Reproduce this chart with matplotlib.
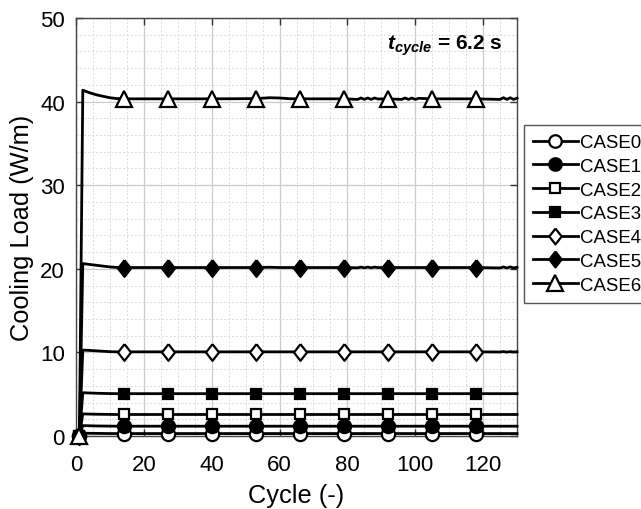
import matplotlib.pyplot as plt
from matplotlib.ticker import MultipleLocator

plt.rcParams['font.family'] = ['Liberation Sans', 'DejaVu Sans']
plt.rcParams['mathtext.fontset'] = 'custom'
plt.rcParams['mathtext.rm'] = 'Liberation Sans'
plt.rcParams['mathtext.bf'] = 'Liberation Sans:bold'
plt.rcParams['mathtext.bfit'] = 'Liberation Sans:bold:italic'

# cycle numbers where the load was sampled
cycles = [1, 2, 4, 6, 8, 10, 12, 14, 20, 27, 34, 40, 46, 53, 57, 60, 63, 66, 72, 79,
          83, 84, 85, 86, 87, 88, 89, 92, 96, 97, 98, 99, 100, 101, 105, 112, 118,
          125, 126, 127, 128, 129, 130]
marker_cycles = [1, 14, 27, 40, 53, 66, 79, 92, 105, 118]

case0 = [0, 0.35, 0.33, 0.32, 0.31, 0.30, 0.30, 0.30, 0.30, 0.30, 0.30, 0.30, 0.30, 0.30,
         0.30, 0.30, 0.30, 0.30, 0.30, 0.30, 0.30, 0.30, 0.30, 0.30, 0.30, 0.30, 0.30,
         0.30, 0.30, 0.30, 0.30, 0.30, 0.30, 0.30, 0.30, 0.30, 0.30, 0.30, 0.30, 0.30,
         0.30, 0.30, 0.30]
case1 = [0, 1.25, 1.23, 1.21, 1.20, 1.19, 1.18, 1.18, 1.18, 1.18, 1.18, 1.18, 1.18, 1.18,
         1.18, 1.18, 1.18, 1.18, 1.18, 1.18, 1.18, 1.18, 1.18, 1.18, 1.18, 1.18, 1.18,
         1.18, 1.18, 1.18, 1.18, 1.18, 1.18, 1.18, 1.18, 1.18, 1.18, 1.18, 1.18, 1.18,
         1.18, 1.18, 1.18]
case2 = [0, 2.65, 2.63, 2.61, 2.60, 2.59, 2.58, 2.58, 2.58, 2.58, 2.58, 2.58, 2.58, 2.58,
         2.58, 2.58, 2.58, 2.58, 2.58, 2.58, 2.58, 2.58, 2.58, 2.58, 2.58, 2.58, 2.58,
         2.58, 2.58, 2.58, 2.58, 2.58, 2.58, 2.58, 2.58, 2.58, 2.58, 2.58, 2.58, 2.58,
         2.58, 2.58, 2.58]
case3 = [0, 5.18, 5.15, 5.12, 5.10, 5.08, 5.07, 5.07, 5.07, 5.07, 5.07, 5.07, 5.07, 5.07,
         5.07, 5.07, 5.07, 5.07, 5.07, 5.07, 5.07, 5.07, 5.07, 5.07, 5.07, 5.07, 5.07,
         5.07, 5.07, 5.07, 5.07, 5.07, 5.07, 5.07, 5.07, 5.07, 5.07, 5.07, 5.07, 5.07,
         5.07, 5.07, 5.07]
case4 = [0, 10.28, 10.24, 10.19, 10.14, 10.09, 10.07, 10.07, 10.07, 10.07, 10.07, 10.07,
         10.07, 10.07, 10.07, 10.07, 10.07, 10.07, 10.07, 10.07, 10.07, 10.07, 10.07, 10.07,
         10.07, 10.07, 10.07, 10.07, 10.07, 10.07, 10.07, 10.07, 10.07, 10.07, 10.07, 10.07,
         10.07, 10.05, 10.10, 10.04, 10.10, 10.05, 10.08]
case5 = [0, 20.62, 20.52, 20.42, 20.32, 20.22, 20.16, 20.15, 20.15, 20.15, 20.15, 20.15,
         20.15, 20.15, 20.18, 20.15, 20.15, 20.15, 20.15, 20.15, 20.12, 20.20, 20.12, 20.20,
         20.12, 20.20, 20.15, 20.15, 20.15, 20.15, 20.15, 20.15, 20.15, 20.15, 20.15, 20.15,
         20.15, 20.10, 20.22, 20.10, 20.22, 20.10, 20.18]
case6 = [0, 41.35, 41.05, 40.80, 40.62, 40.45, 40.35, 40.32, 40.32, 40.32, 40.32, 40.32,
         40.33, 40.35, 40.45, 40.42, 40.33, 40.32, 40.32, 40.32, 40.25, 40.42, 40.25, 40.42,
         40.25, 40.42, 40.30, 40.32, 40.25, 40.42, 40.25, 40.42, 40.25, 40.38, 40.32, 40.32,
         40.32, 40.25, 40.45, 40.25, 40.45, 40.25, 40.40]

series = [case0, case1, case2, case3, case4, case5, case6]
labels = ['CASE0', 'CASE1', 'CASE2', 'CASE3', 'CASE4', 'CASE5', 'CASE6']

diamond = [(0, 1), (0.78, 0), (0, -1), (-0.78, 0), (0, 1)]
styles = [('o', 'white', 9.5), ('o', 'black', 9.5), ('s', 'white', 7.5), ('s', 'black', 7.5),
          (diamond, 'white', 12), (diamond, 'black', 12), ('^', 'white', 12)]

mark_on = [c in marker_cycles for c in cycles]

fig = plt.figure(figsize=(6.41, 5.10), dpi=100)
ax = fig.add_axes([0.1186, 0.143, 0.688, 0.820])

for vals, lab, (mk, fc, ms) in zip(series, labels, styles):
    ax.plot(cycles, vals, color='black', lw=2.0, marker=mk, markersize=ms,
            markerfacecolor=fc, markeredgecolor='black', markeredgewidth=1.6,
            markevery=mark_on, label=lab, clip_on=False, zorder=3)

ax.set_xlim(0, 130)
ax.set_ylim(0, 50)
ax.xaxis.set_major_locator(MultipleLocator(20))
ax.xaxis.set_minor_locator(MultipleLocator(5))
ax.yaxis.set_major_locator(MultipleLocator(10))
ax.yaxis.set_minor_locator(MultipleLocator(2))
ax.grid(which='major', color='#cccccc', lw=0.9)
ax.grid(which='minor', color='#dadada', lw=0.7, ls=(0, (2, 2)))
ax.set_axisbelow(True)
ax.tick_params(which='major', direction='in', length=5, width=1, top=True, right=True,
               labelsize=16, color='#333333')
ax.tick_params(axis='x', which='major', pad=13)
ax.tick_params(axis='y', which='major', pad=8)
ax.tick_params(which='minor', length=0, top=True, right=True)
for sp in ax.spines.values():
    sp.set_color('#444444')
    sp.set_linewidth(1.0)

ax.set_xlabel('Cycle (-)', fontsize=18.3, labelpad=6)
ax.set_ylabel('Cooling Load (W/m)', fontsize=18.3, labelpad=4)

ax.text(0.968, 0.965, r'$\mathbfit{t}_{\mathbfit{cycle}}$ = 6.2 s', transform=ax.transAxes,
        ha='right', va='top', fontsize=15, fontweight='bold')

leg = ax.legend(loc='upper left', bbox_to_anchor=(1.016, 0.744), fontsize=13.4,
                frameon=True, fancybox=False, edgecolor='#555555', framealpha=1,
                handlelength=2.37, handletextpad=0.16, labelspacing=0.36,
                borderpad=0.5, borderaxespad=0, markerscale=0.95)
leg.get_frame().set_linewidth(1.0)

fig.savefig('out.png', dpi=100)
